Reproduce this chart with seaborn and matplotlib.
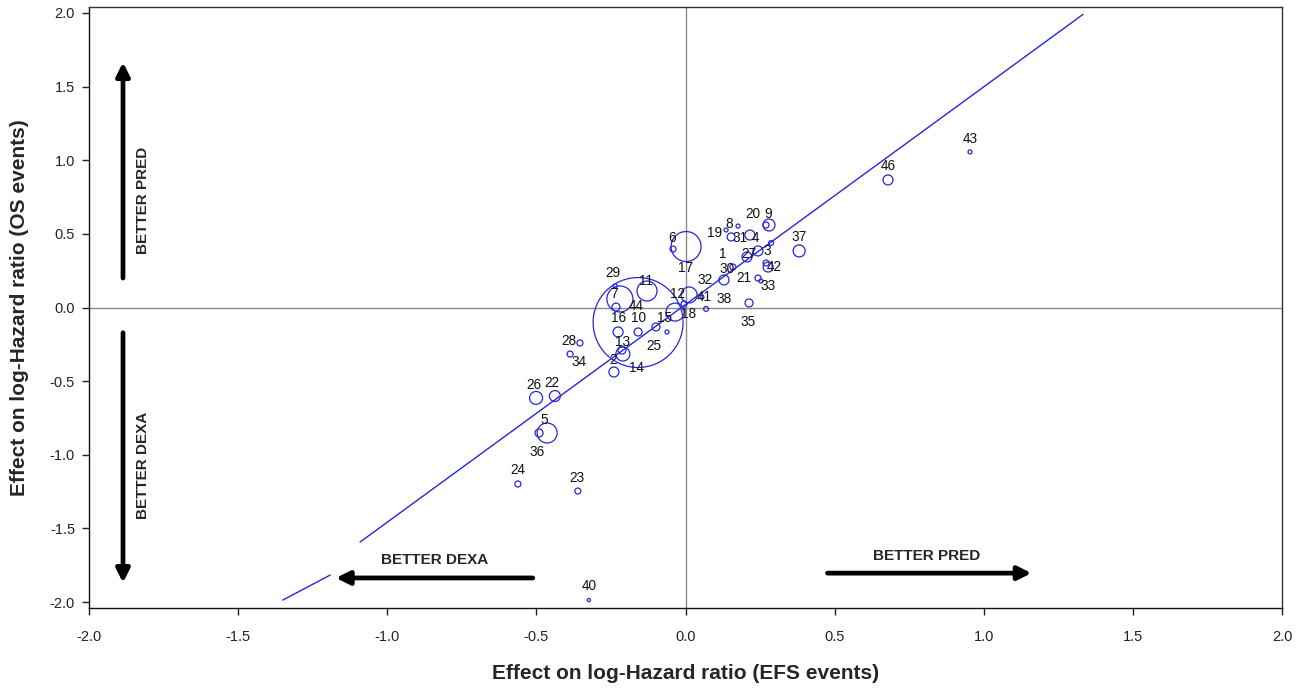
import numpy as np
import pandas as pd
import matplotlib
matplotlib.use("Agg")
import matplotlib.pyplot as plt
import seaborn as sns

# ---------------- data ----------------
labels = ["1", "2", "3", "4", "5", "6", "7", "8", "9", "10", "11", "12", "13", "14",
          "15", "16", "17", "18", "19", "20", "21", "22", "23", "24", "25", "26", "27",
          "28", "29", "30", "31", "32", "33", "34", "35", "36", "37", "38", "40", "41",
          "42", "43", "44", "46", "", "", ""]
efs = [0.159, -0.240, 0.243, 0.216, -0.464, -0.042, -0.220, 0.176, 0.280, -0.159,
       -0.129, -0.035, -0.210, -0.213, -0.062, -0.226, 0.002, -0.005, 0.136, 0.270,
       0.243, -0.438, -0.361, -0.562, -0.099, -0.501, 0.206, -0.354, -0.236, 0.129,
       0.153, 0.012, 0.253, -0.387, 0.213, -0.491, 0.381, 0.055, -0.324, 0.069,
       0.277, 0.954, -0.159, 0.679, 0.287, -0.233, 0.270]
os_ = [0.275, -0.438, 0.384, 0.492, -0.852, 0.397, 0.058, 0.553, 0.560, -0.166,
       0.112, -0.031, -0.316, -0.289, -0.166, -0.166, 0.414, 0.024, 0.526, 0.560,
       0.200, -0.601, -1.246, -1.198, -0.132, -0.614, 0.343, -0.241, 0.146, 0.187,
       0.479, 0.085, 0.180, -0.316, 0.031, -0.852, 0.384, 0.071, -1.986, -0.010,
       0.275, 1.056, -0.102, 0.866, 0.438, 0.003, 0.302]
weight = [9, 25, 25, 25, 100, 9, 169, 4, 36, 16,
          100, 81, 49, 16, 4, 25, 225, 9, 4, 9,
          9, 30, 9, 9, 16, 42, 25, 9, 4, 25,
          16, 64, 4, 9, 16, 16, 36, 4, 2.5, 6,
          25, 4, 2025, 25, 6, 16, 9]

# fitted line, drawn in two pieces (gap near the arrow)
fit1_x = [-1.350, -1.191]
fit1_y = [-1.986, -1.816]
fit2_x = [-1.091, 1.333]
fit2_y = [-1.592, 1.990]

ticks = [-2.0, -1.5, -1.0, -0.5, 0.0, 0.5, 1.0, 1.5, 2.0]
tick_labels = ["-2.0", "-1.5", "-1.0", "-0.5", "0.0", "0.5", "1.0", "1.5", "2.0"]

# ---------------- style ----------------
label_offsets = {  # pixel offsets of number labels relative to their circle
    "1": (-10, 13), "2": (-1, 12), "3": (9, 0), "4": (6, -3), "5": (-3, 13),
    "6": (-1, 11), "7": (-6, 5), "8": (-9, 2), "9": (-1, 11), "10": (0, 14),
    "11": (-1, 10), "12": (2, 18), "13": (0, 12), "14": (15, -18), "15": (-2, 14),
    "16": (0, 14), "17": (-1, -21), "18": (5, -10), "19": (-11, -3), "20": (-13, 11),
    "21": (-14, 0), "22": (-3, 13), "23": (-1, 13), "24": (0, 14), "25": (-2, -19),
    "26": (-2, 13), "27": (2, 3), "28": (-11, 2), "29": (-2, 13), "30": (3, 11),
    "31": (9, -1), "32": (16, 15), "33": (7, -5), "34": (9, -8), "35": (-1, -19),
    "36": (-2, -19), "37": (0, 14), "38": (22, -2), "40": (0, 14), "41": (-2, 12),
    "42": (6, 0), "43": (0, 13), "44": (-2, 17), "46": (0, 14),
}
BLUE = "#2626dc"

sns.set_style("ticks")
plt.rcParams["font.family"] = ["Liberation Sans", "DejaVu Sans"]

df = pd.DataFrame({"efs": efs, "os": os_, "w": weight, "lab": labels})

fig = plt.figure(figsize=(13.09, 6.91), dpi=100)
ax = fig.add_axes([89 / 1309, 83 / 691, (1282 - 89) / 1309, (608 - 7) / 691])

ax.axhline(0, color="#8a8a8a", lw=1.0, zorder=1)
ax.axvline(0, color="#8a8a8a", lw=1.0, zorder=1)

sns.lineplot(x=fit1_x, y=fit1_y, ax=ax, color=BLUE, lw=1.0, zorder=2)
sns.lineplot(x=fit2_x, y=fit2_y, ax=ax, color=BLUE, lw=1.0, zorder=2)

wmin, wmax = min(weight), max(weight)
k = 2.07  # px^2 radius -> pt^2 area
sns.scatterplot(data=df, x="efs", y="os", size="w", sizes=(wmin * k, wmax * k),
                size_norm=(wmin, wmax), fc="none", ec=BLUE, linewidth=0.9,
                legend=False, ax=ax, zorder=3)

for xv, yv, lab in zip(efs, os_, labels):
    if not lab:
        continue
    dx, dy = label_offsets.get(lab, (0, 12))
    ax.annotate(lab, (xv, yv), xytext=(dx, dy), textcoords="offset pixels",
                ha="center", va="center", fontsize=9.8, color="#111111", zorder=4)

ax.set_xlim(-2.0, 2.0)
ax.set_ylim(-2.04, 2.04)
ax.set_xticks(ticks)
ax.set_xticklabels(tick_labels)
ax.set_yticks(ticks)
ax.set_yticklabels(tick_labels)
ax.tick_params(axis="both", direction="out", length=5, width=1, labelsize=10.5,
               colors="#222222")
ax.tick_params(axis="y", pad=5)
ax.tick_params(axis="x", pad=11)
for side in ["left", "bottom"]:
    ax.spines[side].set_color("#111111")
    ax.spines[side].set_linewidth(1.0)
for side in ["top", "right"]:
    ax.spines[side].set_visible(True)
    ax.spines[side].set_color("#333333")
    ax.spines[side].set_linewidth(1.0)

ax.set_xlabel("Effect on log-Hazard ratio (EFS events)", fontsize=15,
              fontweight="bold", labelpad=14)
ax.set_ylabel("Effect on log-Hazard ratio (OS events)", fontsize=15,
              fontweight="bold", labelpad=15)

# direction arrows
arrow_kw = dict(arrowstyle="-|>,head_length=0.8,head_width=0.4", color="black",
                lw=3.4, shrinkA=0, shrinkB=0)
narrow = ["Liberation Sans Narrow", "Liberation Sans", "DejaVu Sans"]
ax.annotate("", xy=(0.0285, 0.908), xytext=(0.0285, 0.549), xycoords="axes fraction",
            textcoords="axes fraction", arrowprops=arrow_kw)
ax.annotate("", xy=(0.0285, 0.042), xytext=(0.0285, 0.458), xycoords="axes fraction",
            textcoords="axes fraction", arrowprops=arrow_kw)
ax.annotate("", xy=(0.207, 0.050), xytext=(0.372, 0.050), xycoords="axes fraction",
            textcoords="axes fraction", arrowprops=arrow_kw)
ax.annotate("", xy=(0.790, 0.058), xytext=(0.619, 0.058), xycoords="axes fraction",
            textcoords="axes fraction", arrowprops=arrow_kw)
ax.text(0.0453, 0.679, "BETTER PRED", transform=ax.transAxes, rotation=90,
        ha="center", va="center", fontsize=11, fontweight="bold", family=narrow)
ax.text(0.0453, 0.238, "BETTER DEXA", transform=ax.transAxes, rotation=90,
        ha="center", va="center", fontsize=11, fontweight="bold", family=narrow)
ax.text(0.290, 0.080, "BETTER DEXA", transform=ax.transAxes,
        ha="center", va="center", fontsize=11, fontweight="bold", family=narrow)
ax.text(0.702, 0.0865, "BETTER PRED", transform=ax.transAxes,
        ha="center", va="center", fontsize=11, fontweight="bold", family=narrow)

fig.savefig("out.png", dpi=100)
